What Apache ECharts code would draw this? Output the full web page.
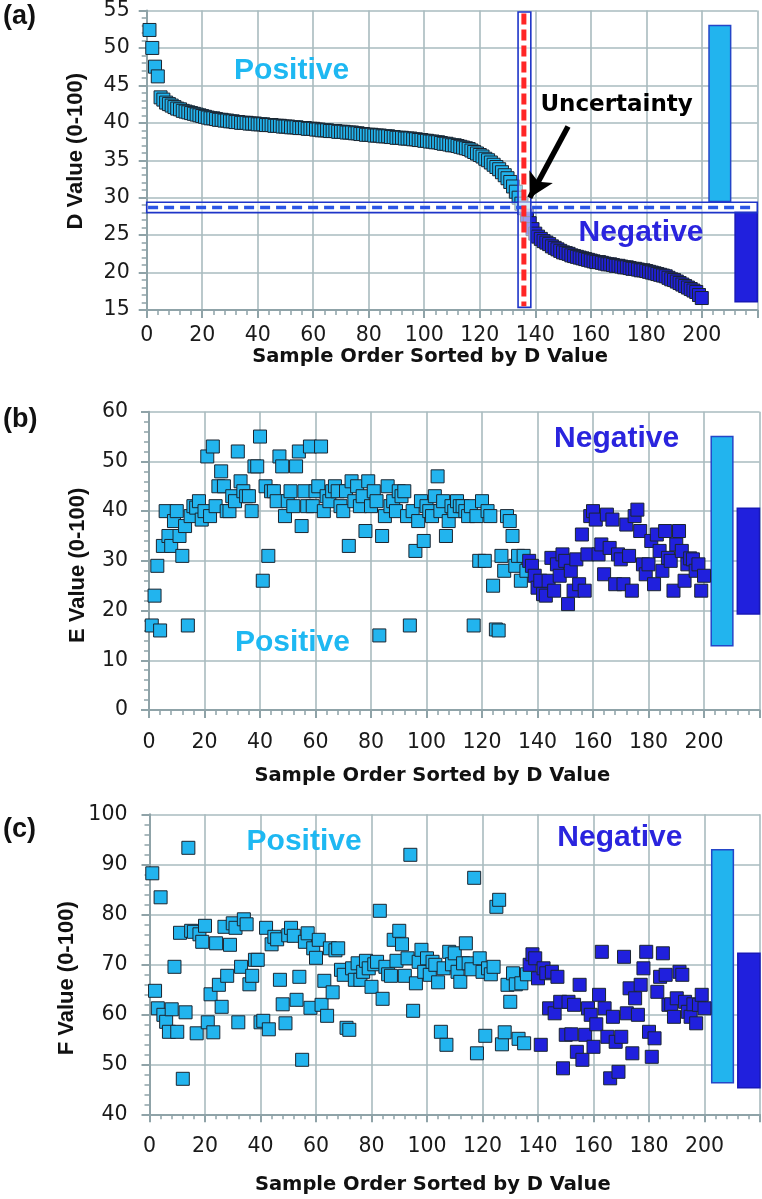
<!DOCTYPE html>
<html><head><meta charset="utf-8">
<script src="https://cdn.jsdelivr.net/npm/echarts@6/dist/echarts.min.js"></script>
<style>html,body{margin:0;padding:0;background:#fff}#c{width:762px;height:1199px}</style>
</head><body><div id="c"></div>
<script>
// ---- data (sample order 1..200, sorted by D value) ----
const positiveCount = 136;
const dValues = [
52.4,50.0,47.5,46.2,43.4,43.1,42.7,42.5,42.3,42.1,
41.9,41.8,41.6,41.5,41.4,41.3,41.2,41.1,41.0,40.9,
40.8,40.7,40.6,40.6,40.5,40.4,40.4,40.3,40.3,40.2,
40.2,40.1,40.1,40.0,40.0,40.0,39.9,39.9,39.9,39.8,
39.8,39.8,39.7,39.7,39.7,39.6,39.6,39.6,39.5,39.5,
39.5,39.4,39.4,39.4,39.3,39.3,39.3,39.2,39.2,39.2,
39.1,39.1,39.0,39.0,39.0,38.9,38.9,38.9,38.8,38.8,
38.8,38.7,38.7,38.7,38.6,38.6,38.5,38.5,38.4,38.4,
38.4,38.3,38.3,38.3,38.2,38.2,38.2,38.1,38.1,38.0,
38.0,38.0,37.9,37.9,37.9,37.8,37.8,37.7,37.7,37.6,
37.6,37.5,37.5,37.4,37.4,37.3,37.2,37.2,37.1,37.0,
37.0,36.9,36.8,36.7,36.6,36.5,36.3,36.1,35.9,35.7,
35.5,35.2,35.0,34.7,34.4,34.1,33.8,33.4,33.0,32.6,
32.1,31.5,30.8,30.0,29.2,28.6,27.6,26.6,25.8,25.2,
24.8,24.5,24.2,24.0,23.8,23.5,23.3,23.1,22.9,22.7,
22.6,22.5,22.3,22.2,22.1,22.0,21.9,21.8,21.7,21.6,
21.5,21.4,21.4,21.3,21.2,21.1,21.1,21.0,20.9,20.9,
20.8,20.7,20.7,20.6,20.5,20.5,20.4,20.3,20.3,20.2,
20.1,20.0,19.9,19.8,19.7,19.6,19.5,19.3,19.1,19.0,
18.8,18.6,18.4,18.2,18.0,17.8,17.6,17.4,17.0,16.6];
const eValues = [
17,23,29,16,33,40,35,33,38,40,
35,31,37,17,39,41,40.7,42,38.3,40,
51,39,53,41,45,48,45,40,40,43,
42,52,46,44,43,43,40,49,49,55,
26,45,31,44,44,42,51,49,39,42,
44,41,49,52,37,44,41,53,41,44,
45,53,40,43,42,44,45,44,41,40,
44,33,46,42,45,41,43,36,46,41,
44,42,15,35,39,45,41,42,40,44,
43,44,39,17,40,32,38,42,34,41,
40,39,43,47,40,42,35,38,41,40,
42,41,41,40,39,41,17,39,30,42,
30,40,39,25,16.2,16,31,28,39,38,
35,29,31,26,31,28,30,29,27,24.6,
26,23.3,23,26,30.6,24,29.3,27,31.3,30,
21.3,28,24,30.3,25.3,35.3,24,31.3,39,40,
38.3,31.3,33.3,27.3,39.3,32.6,38.3,25.3,31.3,30.3,
25.3,37.3,31,24,39,40.3,36,29.3,27.3,29.3,
34,25.3,35.3,32,28,36,30.6,30,24,33.3,
36,32,26,29.3,30.5,30.3,28,29.3,24,27];
const fValues = [
88.2,64.7,61.2,83.4,59.9,58.5,56.5,61,69.5,56.5,
76.3,47.1,60.4,93.3,76.7,76.5,56.2,76,74.5,77.7,
58.4,64,56.4,74.2,65.9,61.5,77.5,67.7,73.9,78.2,
77.3,58.4,69.5,79,78,66,67.7,70.9,70.9,58.4,
58.7,77.3,57,74,75.5,75,66.9,62,58.2,75.8,
77.3,75.7,62.9,67.5,50.9,74.5,76.2,61.3,73.2,71.3,
74.9,61.9,66.7,59.7,73.2,64.4,72.8,73.2,68.9,67.9,
57.3,56.9,69.2,66.9,70.2,66.9,68.5,70.7,69.2,65.5,
70,70.5,80.7,63.1,69.5,68,67.7,74.9,70.7,76.7,
74,67.7,71.2,91.9,60.7,66.2,70.5,72.9,68.5,71.2,
67.9,70.5,69.9,66.4,56.5,69.2,53.9,72.5,70,72.2,
68.5,66.5,70.2,74.2,70.2,69,87.3,52.2,71.2,68.5,
55.7,69.2,68,69.5,81.5,82.9,54,56.4,65.9,62.5,
68.2,66,55.1,66.2,54.2,68,69.9,72,71.2,67.2,
53.9,69.2,68.2,61.2,68.5,60.2,67.5,62.5,49.2,55.9,
62.5,56,61.9,52.5,65.9,50.9,55.9,61.2,59.9,53.5,
58,63.9,72.5,61.2,55.5,47.2,59.5,54.5,48.5,55.5,
71.5,60.2,65.2,52.2,63.2,59.9,65.9,69.2,72.5,56.5,
51.5,55.2,64.5,67.5,72.2,67.9,61.9,62,59.5,63.2,
68.5,67.9,62.5,60.5,59.5,62,58.2,61.9,63.9,61.2];

// range bars at right: [low, high] for positive / negative groups
const dRangePos = [29.5, 53.0], dRangeNeg = [16.1, 28.1];
const eRangePos = [12.9, 55.0], eRangeNeg = [19.3, 40.6];
const fRangePos = [46.3, 92.9], fRangeNeg = [45.3, 72.2];
// uncertainty window in panel (a)
const dThreshold = 28.7, dBand = [28.0, 29.4];
const orderThreshold = 135.9, orderBand = [133.8, 138.4];

const panelLabels = ['(a)', '(b)', '(c)'];
const yTitles = ['D Value (0-100)', 'E Value (0-100)', 'F Value (0-100)'];
const xTitle = 'Sample Order Sorted by D Value';
const yRanges = [[15, 55, 5], [0, 60, 10], [40, 100, 10]];

// ---- styles ----
const LIGHT = '#22B4EE', DARK = '#2020DD', EDGE = '#1b2530';
const GRIDC = '#A9BBBF', AXISC = '#8FA3A8';
const grids = [
  {left: 146.7, top: 10, width: 610.6, height: 300},
  {left: 149, top: 411.7, width: 610.5, height: 298.3},
  {left: 149.5, top: 814.3, width: 610.5, height: 300}
];
const yLabelMargin = [17, 21, 22];
const xLabelMargin = [15, 22, 22];
const xNameGap = [36, 56, 61];
const yNamePad = [[0, 0, 0, 18], [0, 9, 0, 0], [0, 28, 0, 0]];

const xAxes = grids.map((g, i) => ({
  gridIndex: i, type: 'value', min: 0, max: 220, interval: 20,
  name: xTitle, nameLocation: 'middle', nameGap: xNameGap[i],
  nameTextStyle: {fontFamily: 'DejaVu Sans', fontWeight: 'bold', fontSize: 19.5, color: '#111', padding: [0, 44, 0, 0]},
  axisLine: {show: true, lineStyle: {color: AXISC, width: 2}},
  axisTick: {show: true, inside: false, length: 8, lineStyle: {color: AXISC, width: 2}},
  minorTick: {show: true, splitNumber: 5, length: 5, lineStyle: {color: AXISC, width: 1.5}},
  splitLine: {show: true, lineStyle: {color: GRIDC, width: 1.6}},
  axisLabel: {showMaxLabel: false, margin: xLabelMargin[i], fontFamily: 'DejaVu Sans', fontSize: 20.5, color: '#1a1a1a'}
}));
const yAxes = grids.map((g, i) => ({
  gridIndex: i, type: 'value', min: yRanges[i][0], max: yRanges[i][1], interval: yRanges[i][2],
  name: yTitles[i], nameLocation: 'middle', nameGap: 60,
  nameTextStyle: {fontFamily: 'Liberation Sans', fontWeight: 'bold', fontSize: 22, color: '#111', padding: yNamePad[i]},
  axisLine: {show: true, lineStyle: {color: AXISC, width: 2}},
  axisTick: {show: true, inside: false, length: 8, lineStyle: {color: AXISC, width: 2}},
  minorTick: {show: true, splitNumber: 5, length: 5, lineStyle: {color: AXISC, width: 1.5}},
  splitLine: {show: true, lineStyle: {color: GRIDC, width: 1.6}},
  axisLabel: {margin: yLabelMargin[i], fontFamily: 'DejaVu Sans', fontSize: 20.5, color: '#1a1a1a'}
}));

function scatter(idx, values, from, to, color) {
  const data = [];
  for (let k = from; k < to; k++) data.push([k + 1, values[k]]);
  return {
    type: 'scatter', xAxisIndex: idx, yAxisIndex: idx, symbol: 'rect', symbolSize: 13,
    itemStyle: {color: color, borderColor: EDGE, borderWidth: 1, opacity: 1},
    data: data, z: 3, silent: true
  };
}
function rects(idx, data, style, z) {
  return {
    type: 'custom', xAxisIndex: idx, yAxisIndex: idx, z: z, silent: true,
    renderItem: (p, api) => {
      const a = api.coord([api.value(0), api.value(3)]);
      const b = api.coord([api.value(1), api.value(2)]);
      return {type: 'rect', shape: {x: a[0], y: a[1], width: b[0] - a[0], height: b[1] - a[1]},
        style: Object.assign({}, style, {fill: api.value(4) === 1 ? style.fill2 : style.fill, stroke: api.value(4) === 1 ? style.stroke2 : style.stroke})};
    },
    data: data
  };
}
function segs(idx, data, style, z) {
  return {
    type: 'custom', xAxisIndex: idx, yAxisIndex: idx, z: z, silent: true,
    renderItem: (p, api) => {
      const a = api.coord([api.value(0), api.value(1)]);
      const b = api.coord([api.value(2), api.value(3)]);
      return {type: 'line', shape: {x1: a[0], y1: a[1], x2: b[0], y2: b[1]}, style: style};
    },
    data: data
  };
}
function texts(idx, items) {
  return {
    type: 'custom', xAxisIndex: idx, yAxisIndex: idx, z: 6, silent: true,
    renderItem: (p, api) => {
      const t = items[p.dataIndex];
      const c = api.coord([api.value(0), api.value(1)]);
      return {type: 'text', x: c[0], y: c[1], z2: 10,
        style: {text: t[0], fill: t[3], align: 'center', verticalAlign: 'middle',
          font: 'bold ' + t[4] + 'px "' + (t[5] || 'Liberation Sans') + '"'}};
    },
    data: items.map(t => [t[1], t[2]])
  };
}
const barStyle = {fill: LIGHT, stroke: '#2446C8', fill2: DARK, stroke2: '#1818B8', lineWidth: 1.5};
function rangeBars(idx, pos, neg) {
  return rects(idx, [[202.6, 210.4, pos[0], pos[1], 0], [212.0, 220.0, neg[0], neg[1], 1]], barStyle, 2);
}

const series = [
  // panel (a)
  scatter(0, dValues, 0, positiveCount, LIGHT),
  Object.assign(scatter(0, dValues, positiveCount, 200, DARK), {
    markLine: {silent: true, symbol: ['none', 'arrow'], symbolSize: [20, 24], animation: false,
      label: {show: false}, lineStyle: {color: '#000', width: 5.5, type: 'solid', opacity: 1},
      emphasis: {disabled: true}, blur: {lineStyle: {opacity: 1}},
      data: [[{coord: [151.8, 39.5]}, {coord: [138.0, 30.0]}]]}
  }),
  rects(0, [[0, 220, dBand[0], dBand[1], 0], [orderBand[0], orderBand[1], 15.35, 54.8, 0]],
    {fill: 'rgba(255,255,255,0.55)', stroke: '#1E35C8', lineWidth: 1.6}, 4),
  segs(0, [[0.5, dThreshold, 219.5, dThreshold]], {stroke: '#2B55E6', lineWidth: 3.5, lineDash: [10, 6]}, 5),
  segs(0, [[orderThreshold, 54.6, orderThreshold, 15.5]], {stroke: '#FF2626', lineWidth: 5, lineDash: [11, 5]}, 5),
  rangeBars(0, dRangePos, dRangeNeg),
  texts(0, [['Positive', 52.2, 47, '#1EB8F2', 30], ['Negative', 178.1, 25.3, '#2A24DE', 30],
            ['Uncertainty', 169.3, 42.4, '#000', 23, 'DejaVu Sans']]),
  // panel (b)
  scatter(1, eValues, 0, positiveCount, LIGHT),
  scatter(1, eValues, positiveCount, 200, DARK),
  rangeBars(1, eRangePos, eRangeNeg),
  texts(1, [['Positive', 51.7, 13.6, '#1EB8F2', 30], ['Negative', 168.5, 54.5, '#2A24DE', 30]]),
  // panel (c)
  scatter(2, fValues, 0, positiveCount, LIGHT),
  scatter(2, fValues, positiveCount, 200, DARK),
  rangeBars(2, fRangePos, fRangeNeg),
  texts(2, [['Positive', 55.7, 94.6, '#1EB8F2', 30], ['Negative', 169.5, 95.4, '#2A24DE', 30]])
];

const labelY = [19, 422, 832];
const option = {
  animation: false,
  backgroundColor: '#fff',
  grid: grids,
  xAxis: xAxes,
  yAxis: yAxes,
  series: series,
  graphic: panelLabels.map((t, i) => ({type: 'text', left: 3, top: labelY[i] - 16,
    style: {text: t, font: 'bold 27px "Liberation Sans"', fill: '#111'}}))
};
const chart = echarts.init(document.getElementById('c'), null, {renderer: 'canvas'});
chart.setOption(option);
</script></body></html>
